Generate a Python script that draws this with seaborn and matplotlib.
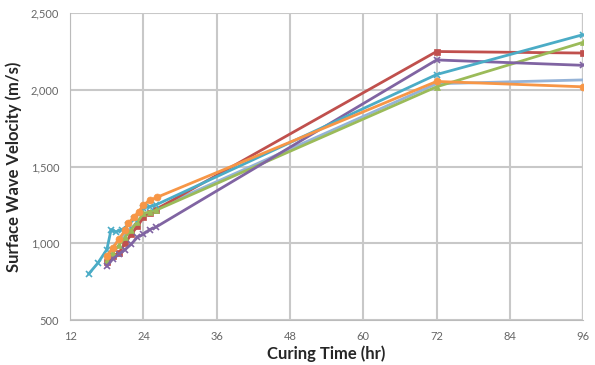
import pandas as pd
import matplotlib
matplotlib.use("Agg")
import matplotlib.pyplot as plt
import seaborn as sns

# curing time (hr) and surface wave velocity (m/s) for each mix
t_blue = [18, 19, 20, 21, 22, 23, 24, 25, 26, 72, 96]
v_blue = [900, 975, 1025, 1065, 1100, 1140, 1180, 1200, 1225, 2040, 2065]

t_red = [18, 19, 20, 21, 22, 23, 24, 25, 26, 72, 96]
v_red = [880, 915, 940, 1000, 1060, 1110, 1170, 1200, 1220, 2250, 2240]

t_green = [18, 19, 20, 21, 22, 23, 24, 25, 26, 72, 96]
v_green = [890, 940, 990, 1040, 1090, 1140, 1195, 1205, 1215, 2020, 2310]

t_purple = [18, 19, 20, 21, 22, 23, 24, 25, 26, 72, 96]
v_purple = [850, 900, 930, 960, 995, 1040, 1060, 1090, 1105, 2195, 2160]

t_cyan = [15, 16.5, 18, 18.7, 19.5, 20.5, 21.5, 22.5, 24, 25, 26, 72, 96]
v_cyan = [800, 870, 960, 1090, 1075, 1090, 1120, 1160, 1230, 1240, 1250, 2100, 2360]

t_orange = [18, 19, 20, 21, 21.5, 22.4, 23.2, 24, 25, 26.2, 72, 96]
v_orange = [920, 970, 1030, 1085, 1130, 1170, 1205, 1250, 1280, 1300, 2055, 2020]

series = [
    ("blue", t_blue, v_blue, "#95B3D7", None),
    ("red", t_red, v_red, "#C0504D", "s"),
    ("green", t_green, v_green, "#9BBB59", "^"),
    ("purple", t_purple, v_purple, "#8064A2", "x"),
    ("cyan", t_cyan, v_cyan, "#4BACC6", "x"),
    ("orange", t_orange, v_orange, "#F79646", "o"),
]

sns.set_style("white")
plt.rcParams["font.family"] = ["Lato", "DejaVu Sans"]

fig = plt.figure(figsize=(5.95, 3.65), dpi=100)
ax = fig.add_axes([0.118, 0.123, 0.862, 0.841])

for name, t, v, col, mk in series:
    df = pd.DataFrame({"Time": t, "Velocity": v})
    sns.lineplot(data=df, x="Time", y="Velocity", ax=ax, color=col, lw=2,
                 marker=mk, markersize=5, markeredgecolor=col,
                 markeredgewidth=1.2 if mk == "x" else 0.5,
                 sort=False, estimator=None)

ax.set_xlim(12, 96)
ax.set_ylim(500, 2500)
ax.set_xticks(range(12, 97, 12))
ax.set_yticks(range(500, 2501, 500))
ax.set_yticklabels(["{:,}".format(y) for y in range(500, 2501, 500)])
ax.grid(True, color="#C8C8C8", lw=1.5)
ax.set_axisbelow(True)
for s in ["top", "right"]:
    ax.spines[s].set_visible(False)
ax.spines["left"].set_color("#BBBBBB")
ax.spines["bottom"].set_color("#BBBBBB")
ax.axvline(96, color="#888888", lw=1.5, zorder=0)

ax.tick_params(axis="both", labelsize=8, colors="#666666", length=0, pad=8)
ax.tick_params(axis="y", length=4, color="#BBBBBB", pad=4)
ax.set_xlabel("Curing Time (hr)", fontsize=12, fontweight="bold", labelpad=2)
ax.set_ylabel("Surface Wave Velocity (m/s)", fontsize=12, fontweight="bold", labelpad=6)

fig.savefig("out.png", dpi=100)
